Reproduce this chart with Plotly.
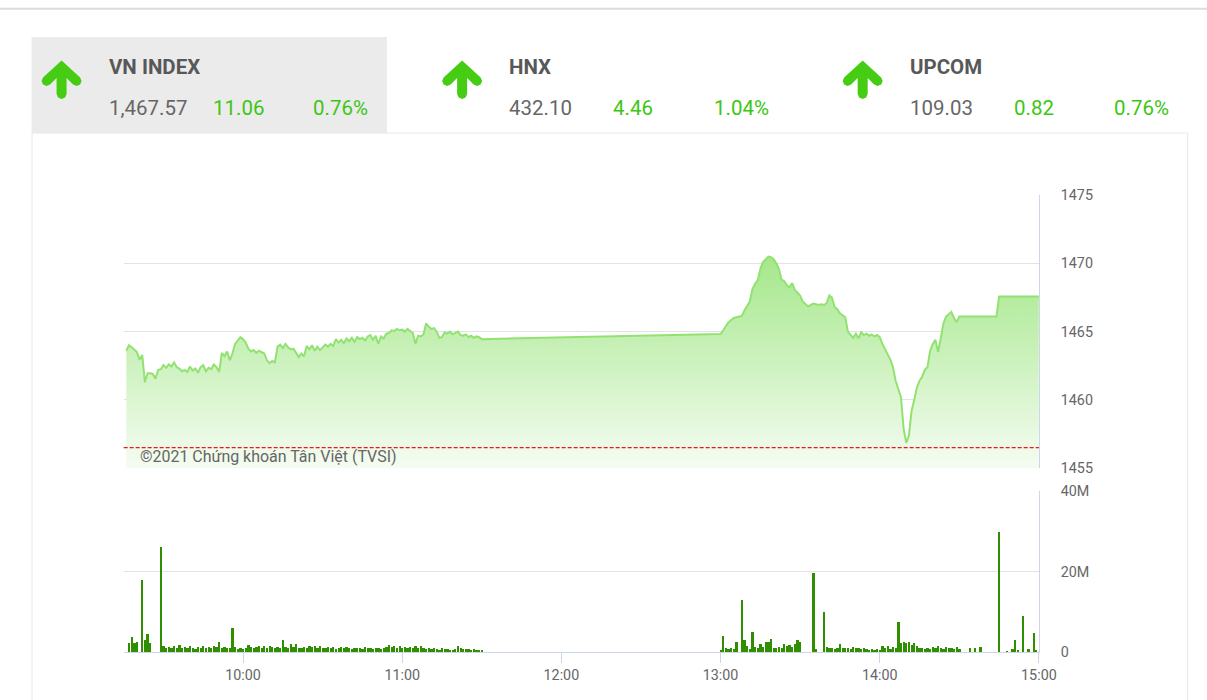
import plotly.graph_objects as go
import pandas as pd

# Screen capture calibration (measured on previous renders): the captured
# image maps page pixels as  X = SX*x + OX,  Y = SY*y + OY.
SX, OX, SY, OY = 0.984, 0.5, 0.977, 8.0
W, H = 1227, 709  # figure size in CSS px (body margin removed)


def px(x):
    return ((x - OX) / SX) / W


def py(y):
    return 1 - ((y - OY) / SY) / H


DAY = "2021-01-01"

# ---------------- data ----------------
indices = ["VN INDEX", "HNX", "UPCOM"]
index_values = ["1,467.57", "432.10", "109.03"]
index_changes = ["11.06", "4.46", "0.82"]
index_pcts = ["0.76%", "1.04%", "0.76%"]

prev_close = 1456.51

am_start = "09:16"
am_prices = [
    1463.60, 1464.00, 1463.85, 1463.70, 1463.50, 1462.95, 1463.30, 1461.30, 1461.95, 1461.95,
    1461.90, 1461.55, 1462.20, 1462.25, 1462.55, 1462.35, 1462.60, 1462.45, 1462.75, 1462.40,
    1462.30, 1462.10, 1462.20, 1462.05, 1462.45, 1462.15, 1462.30, 1462.00, 1462.40, 1462.55,
    1462.10, 1462.35, 1462.25, 1462.60, 1462.40, 1462.05, 1463.45, 1463.20, 1463.55, 1462.90,
    1463.40, 1464.10, 1464.35, 1464.60, 1464.45, 1464.20, 1463.75, 1463.55, 1463.65, 1463.45,
    1463.60, 1463.50, 1463.40, 1462.90, 1462.70, 1462.85, 1462.75, 1463.90, 1464.05, 1463.80,
    1464.10, 1463.85, 1463.70, 1463.75, 1463.45, 1463.15, 1463.40, 1463.20, 1463.95, 1463.70,
    1464.00, 1463.60, 1463.90, 1463.65, 1463.85, 1464.05, 1463.90, 1464.10, 1463.95, 1464.45,
    1464.20, 1464.40, 1464.15, 1464.50, 1464.30, 1464.55, 1464.25, 1464.60, 1464.45, 1464.55,
    1464.35, 1464.65, 1464.75, 1464.40, 1464.70, 1464.10, 1464.65, 1464.50, 1464.85, 1464.90,
    1465.10, 1465.05, 1465.20, 1465.10, 1465.15, 1465.00, 1465.20, 1465.05, 1464.90, 1464.10,
    1464.70, 1464.65, 1464.80, 1465.60, 1465.35, 1465.20, 1465.25, 1465.00, 1464.55, 1464.60,
    1464.95, 1464.85, 1465.00, 1464.80, 1464.90, 1465.00, 1464.75, 1464.70, 1464.80, 1464.60,
    1464.70, 1464.55, 1464.65, 1464.60, 1464.45,
]

pm_start = "13:00"
pm_prices = [
    1464.82, 1465.10, 1465.45, 1465.70, 1465.85, 1466.00, 1466.05, 1466.10, 1466.15, 1466.55,
    1466.85, 1467.20, 1468.10, 1468.50, 1468.75, 1469.60, 1470.10, 1470.30, 1470.50, 1470.45,
    1470.30, 1470.00, 1469.60, 1468.80, 1468.70, 1468.40, 1468.25, 1468.55, 1468.05, 1467.85,
    1467.65, 1467.20, 1467.00, 1466.85, 1466.95, 1467.05, 1467.00, 1466.95, 1467.00, 1466.95,
    1467.10, 1467.65, 1467.50, 1466.80, 1466.65, 1466.35, 1466.20, 1466.05, 1465.00, 1464.80,
    1464.55, 1464.85, 1464.50, 1464.95, 1464.75, 1464.85, 1464.70, 1464.80, 1464.65, 1464.75,
    1464.60, 1464.10, 1463.70, 1463.30, 1462.95, 1462.40, 1461.40, 1460.80, 1460.20, 1457.90,
    1456.85, 1457.40, 1459.20, 1460.00, 1460.90, 1461.40, 1461.70, 1462.20, 1462.40, 1463.60,
    1464.10, 1464.40, 1463.50, 1464.50, 1465.60, 1466.10, 1466.30, 1466.45, 1466.00, 1465.70,
    1466.10,
]

close_times = ["14:44", "14:45", "15:00"]
close_prices = [1466.10, 1467.57, 1467.57]

vol_am_start = "09:15"
vol_am = [  # millions of shares
    0, 0, 2.2, 3.7, 2.2, 2.6, 0, 18.0, 3.0, 4.5,
    2.2, 0, 0, 0, 26.0, 1.4, 1.0, 1.2, 0.9, 1.5,
    1.1, 1.7, 1.0, 1.3, 0.9, 1.6, 1.1, 0.8, 1.2, 1.0,
    1.4, 0.9, 1.3, 1.1, 1.5, 1.2, 2.6, 1.0, 1.3, 0.9,
    1.1, 6.0, 1.2, 0.8, 1.0, 0.7, 1.1, 1.8, 1.3, 1.0,
    1.2, 1.4, 1.0, 1.5, 1.1, 1.6, 1.2, 1.0, 1.3, 1.1,
    3.0, 1.2, 1.0, 2.1, 1.3, 2.0, 1.1, 1.0, 1.3, 0.9,
    1.5, 1.2, 1.6, 1.0, 1.4, 1.1, 0.9, 1.3, 1.0, 1.2,
    0.8, 1.1, 1.3, 0.9, 1.2, 1.0, 0.8, 1.1, 0.9, 1.0,
    0.8, 1.2, 0.9, 1.0, 0.7, 1.1, 0.9, 0.8, 1.0, 1.3,
    1.8, 1.2, 1.5, 1.0, 1.4, 1.1, 1.3, 1.0, 1.2, 0.9,
    1.5, 1.1, 1.4, 1.0, 0.8, 0.9, 0.7, 1.0, 0.8, 0.6,
    0.9, 0.7, 0.8, 0.6, 0.5, 0.7, 1.5, 0.9, 0.8, 0.7,
    0.8, 0.6, 0.7, 0.5, 0.6, 0.5,
]

vol_pm_start = "13:00"
vol_pm = [
    0.6, 4.0, 1.0, 0.8, 0.9, 0.7, 2.5, 0, 13.0, 3.0,
    1.5, 0.8, 5.0, 1.2, 1.0, 2.0, 1.3, 2.5, 2.5, 3.2,
    1.1, 1.0, 1.2, 0.9, 2.0, 1.5, 1.8, 1.3, 2.0, 3.0,
    2.5, 0, 0, 0, 0, 19.7, 0.8, 0, 0, 10.0,
    1.2, 0.9, 1.1, 0.8, 1.0, 2.0, 1.1, 0.9, 1.0, 0.8,
    1.2, 0.9, 1.0, 0.7, 0.9, 0.8, 0.6, 0.7, 0.5, 0.8,
    0.6, 1.5, 0.9, 1.6, 0.8, 1.2, 1.0, 7.5, 2.3, 2.5,
    2.2, 2.4, 1.8, 2.3, 1.5, 1.1, 0.9, 0.8, 1.0, 0.7,
    1.2, 0.9, 1.5, 1.0, 0.8, 1.3, 0.9, 1.1, 0.8, 1.2,
    0.7, 0, 0, 0, 1.0, 0, 1.0, 0, 1.2, 0,
    0, 0, 0, 0, 0, 29.8, 0, 0, 0.3, 0,
    0.8, 3.0, 0.6, 0, 9.0, 0, 0.8, 0, 4.7, 0.5,
    0,
]

price_ticks = [1455, 1460, 1465, 1470, 1475]
vol_ticks = [0, 20, 40]
vol_tick_text = ["0", "20M", "40M"]
time_ticks = ["10:00", "11:00", "12:00", "13:00", "14:00", "15:00"]
time_range = ["09:15", "15:00"]

# ---------------- build series ----------------
def minutes(start, n):
    return list(pd.date_range(f"{DAY} {start}", periods=n, freq="min"))


price_x = (minutes(am_start, len(am_prices)) + minutes(pm_start, len(pm_prices))
           + [pd.Timestamp(f"{DAY} {t}") for t in close_times])
price_y = am_prices + pm_prices + close_prices

vol_x = minutes(vol_am_start, len(vol_am)) + minutes(vol_pm_start, len(vol_pm))
vol_y = vol_am + vol_pm

xr = [f"{DAY} {t}" for t in time_range]
xt = [f"{DAY} {t}" for t in time_ticks]

FONT = "Roboto"
GREEN_TXT = "#3cc614"
ARROW = "#47cc14"
AXIS_C = "#ccd6eb"
GRID_C = "#e3e3e3"
LABEL_C = "#666666"
FS = 1 / SY  # font scale compensation

fig = go.Figure()

fig.add_trace(go.Scatter(
    x=price_x, y=price_y, mode="lines",
    line=dict(color="#92e272", width=2),
    fill="tozeroy",
    fillgradient=dict(type="vertical",
                      colorscale=[[0, "#f8fdf6"], [1, "#a3e788"]],
                      start=1455, stop=1471),
    hoverinfo="skip", xaxis="x", yaxis="y", showlegend=False,
))

fig.add_trace(go.Bar(
    x=vol_x, y=vol_y, width=40000,
    marker=dict(color="#2f8f00", line=dict(width=0)),
    hoverinfo="skip", xaxis="x2", yaxis="y2", showlegend=False,
))

XD = [px(124), px(1038)]
TICK_FONT = dict(family=FONT, size=14 * FS, color=LABEL_C)

fig.update_layout(
    width=W, height=H, autosize=False,
    margin=dict(l=0, r=0, t=0, b=0),
    paper_bgcolor="white", plot_bgcolor="white",
    font=dict(family=FONT, color=LABEL_C, size=14),
    bargap=0,
    xaxis=dict(domain=XD, anchor="y", range=xr, showticklabels=False,
               showgrid=False, zeroline=False, ticks="", showline=False),
    yaxis=dict(domain=[py(468), py(195)], anchor="x", side="right",
               range=[1455, 1475], tickvals=price_ticks,
               showgrid=True, gridcolor=GRID_C, gridwidth=1, zeroline=False,
               showline=True, linecolor=AXIS_C, linewidth=1,
               ticks="", ticklabelstandoff=18, tickfont=TICK_FONT),
    xaxis2=dict(domain=XD, anchor="y2", range=xr, tickvals=xt,
                tickformat="%H:%M", showgrid=False, zeroline=False,
                showline=True, linecolor=AXIS_C, linewidth=1,
                ticks="outside", ticklen=10, tickcolor=AXIS_C, tickwidth=1,
                tickfont=TICK_FONT),
    yaxis2=dict(domain=[py(652), py(491)], anchor="x2", side="right",
                range=[0, 40], tickvals=vol_ticks, ticktext=vol_tick_text,
                showgrid=True, gridcolor=GRID_C, gridwidth=1, zeroline=False,
                showline=True, linecolor=AXIS_C, linewidth=1,
                ticks="", ticklabelstandoff=18, tickfont=TICK_FONT),
)

shapes = []
# top page rule
shapes.append(dict(type="line", xref="paper", yref="paper",
                   x0=0, x1=1, y0=0.999, y1=0.999,
                   line=dict(color="#dcdcdc", width=2), layer="below"))
# card outline
shapes.append(dict(type="rect", xref="paper", yref="paper",
                   x0=px(32.5), x1=px(1186.5), y0=-0.02, y1=py(133),
                   line=dict(color="#e8e8e8", width=1), fillcolor="rgba(0,0,0,0)",
                   layer="below"))
# active tab box
shapes.append(dict(type="rect", xref="paper", yref="paper",
                   x0=px(32), x1=px(387), y0=py(133), y1=py(37),
                   line=dict(width=0), fillcolor="#ebebeb", layer="below"))
# previous close reference line
shapes.append(dict(type="line", xref="x domain", yref="y",
                   x0=0, x1=1, y0=prev_close, y1=prev_close,
                   line=dict(color="#f01414", width=1.3, dash="4px,2px")))

# arrows
arrow_pts = [(0, 60.5), (18.5, 77.5), (20, 81), (18.5, 84.5), (15, 86), (11.5, 84.5),
             (5, 78), (5, 94), (3.5, 97.5), (0, 99), (-3.5, 97.5), (-5, 94),
             (-5, 78), (-11.5, 84.5), (-15, 86), (-18.5, 84.5), (-20, 81), (-18.5, 77.5)]
panel_x = [62, 462, 862]
for cx in panel_x:
    path = "M " + " L ".join(f"{px(cx + dx):.5f},{py(y):.5f}" for dx, y in arrow_pts) + " Z"
    shapes.append(dict(type="path", xref="paper", yref="paper", path=path,
                       fillcolor=ARROW, line=dict(width=0)))

fig.update_layout(shapes=shapes)

ann = []
for i, cx in enumerate(panel_x):
    ann.append(dict(text=f"<b>{indices[i]}</b>", x=px(cx + 45), y=py(67),
                    xref="paper", yref="paper", xanchor="left", yanchor="middle",
                    showarrow=False, font=dict(family=FONT, size=20 * FS, color="#585858")))
    ann.append(dict(text=index_values[i], x=px(cx + 45), y=py(108),
                    xref="paper", yref="paper", xanchor="left", yanchor="middle",
                    showarrow=False, font=dict(family=FONT, size=20 * FS, color="#666666")))
    ann.append(dict(text=index_changes[i], x=px(cx + 149), y=py(108),
                    xref="paper", yref="paper", xanchor="left", yanchor="middle",
                    showarrow=False, font=dict(family=FONT, size=20 * FS, color=GREEN_TXT)))
    ann.append(dict(text=index_pcts[i], x=px(cx + 308), y=py(108),
                    xref="paper", yref="paper", xanchor="right", yanchor="middle",
                    showarrow=False, font=dict(family=FONT, size=20 * FS, color=GREEN_TXT)))

ann.append(dict(text="©2021 Chứng khoán Tân Việt (TVSI)", x=px(138), y=py(456),
                xref="paper", yref="paper", xanchor="left", yanchor="middle",
                showarrow=False, font=dict(family=FONT, size=15.6 * FS, color="#666666")))
fig.update_layout(annotations=ann)

fig.write_html(
    "out.html",
    config={"displayModeBar": False},
    post_script="document.documentElement.style.margin='0';"
                "document.body.style.margin='0';"
                "document.documentElement.style.overflow='hidden';"
                "document.body.style.overflow='hidden';",
)
